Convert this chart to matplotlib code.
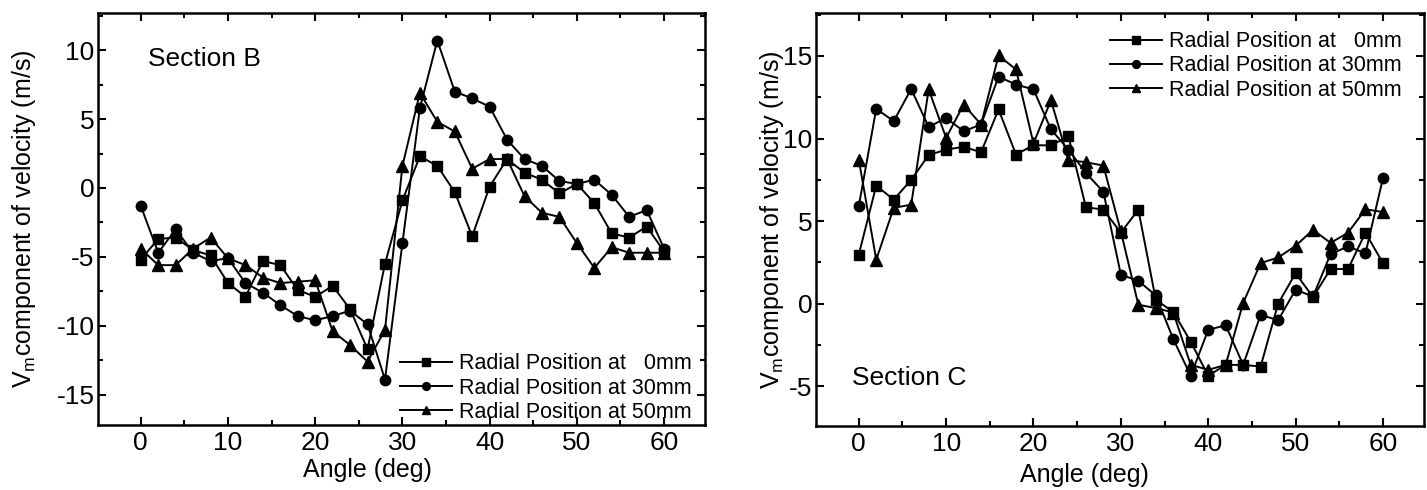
import matplotlib
matplotlib.use('Agg')
import matplotlib.pyplot as plt
from matplotlib.ticker import MultipleLocator

plt.rcParams['font.family'] = ['Liberation Sans', 'DejaVu Sans']
plt.rcParams['mathtext.fontset'] = 'custom'
plt.rcParams['mathtext.rm'] = 'Liberation Sans'
plt.rcParams['axes.unicode_minus'] = False

# angles (deg)
angle = list(range(0, 62, 2))

# Section B
b_0mm = [-5.2, -3.7, -3.6, -4.5, -4.9, -6.9, -7.9, -5.3, -5.6, -7.4, -7.9,
         -7.1, -8.8, -11.7, -5.5, -0.9, 2.3, 1.6, -0.3, -3.5, 0.1,
         2.1, 1.1, 0.6, -0.4, 0.3, -1.1, -3.3, -3.6, -2.8, -4.6]
b_30mm = [-1.3, -4.7, -3.0, -4.7, -5.3, -5.1, -6.9, -7.6, -8.5, -9.3, -9.6,
          -9.3, -8.9, -9.9, -13.9, -4.0, 5.8, 10.7, 7.0, 6.5, 5.9,
          3.5, 2.1, 1.6, 0.5, 0.3, 0.6, -0.5, -2.1, -1.6, -4.4]
b_50mm = [-4.4, -5.6, -5.6, -4.4, -3.6, -5.1, -5.6, -6.5, -6.9, -6.8, -6.7,
          -10.4, -11.4, -12.6, -10.3, 1.6, 6.9, 4.8, 4.1, 1.4, 2.1,
          2.1, -0.6, -1.8, -2.1, -4.0, -5.8, -4.3, -4.7, -4.7, -4.7]

# Section C
c_0mm = [2.97, 7.15, 6.3, 7.5, 9.0, 9.33, 9.5, 9.17, 11.76, 9.03, 9.6,
         9.58, 10.14, 5.84, 5.7, 4.3, 5.7, 0.24, -0.5, -2.3, -4.36,
         -3.7, -3.7, -3.8, 0.0, 1.85, 0.4, 2.1, 2.1, 4.3, 2.46]
c_30mm = [5.9, 11.8, 11.05, 13.0, 10.7, 11.25, 10.44, 10.85, 13.74, 13.27, 12.97,
          10.55, 9.33, 7.92, 6.77, 1.76, 1.39, 0.5, -2.14, -4.36, -1.58,
          -1.3, -3.7, -0.67, -1.0, 0.85, 0.44, 3.0, 3.47, 3.05, 7.6]
c_50mm = [8.73, 2.67, 5.8, 6.0, 12.97, 10.04, 12.06, 10.85, 15.03, 14.18, 9.7,
          12.32, 8.69, 8.57, 8.36, 4.38, -0.06, -0.26, -0.53, -3.7, -4.0,
          -3.7, 0.05, 2.46, 2.8, 3.5, 4.48, 3.68, 4.3, 5.72, 5.55]

labels = ['Radial Position at   0mm', 'Radial Position at 30mm', 'Radial Position at 50mm']
ylab = r'V$_\mathrm{m}$component of velocity (m/s)'


def style_axes(ax, ylim):
    ax.set_xlim(-4.9, 64.7)
    ax.set_ylim(ylim)
    ax.xaxis.set_major_locator(MultipleLocator(10))
    ax.xaxis.set_minor_locator(MultipleLocator(5))
    ax.yaxis.set_major_locator(MultipleLocator(5))
    ax.yaxis.set_minor_locator(MultipleLocator(2.5))
    ax.tick_params(which='both', direction='in', top=True, right=True,
                   width=1.5, labelsize=19)
    ax.tick_params(which='major', length=6)
    ax.tick_params(which='minor', length=3.5)
    ax.tick_params(axis='y', which='major', pad=2.5)
    ax.tick_params(axis='x', which='major', pad=4)
    for s in ax.spines.values():
        s.set_linewidth(1.8)
    ax.set_xlabel('Angle (deg)', fontsize=18)
    ax.set_ylabel(ylab, fontsize=18)


def plot_series(ax, s0, s30, s50):
    ax.plot(angle, s0, color='k', lw=1.4, marker='s', ms=7, label=labels[0])
    ax.plot(angle, s30, color='k', lw=1.4, marker='o', ms=7.5, label=labels[1])
    ax.plot(angle, s50, color='k', lw=1.4, marker='^', ms=8.5, label=labels[2])


fig = plt.figure(figsize=(14.27, 4.90), dpi=100)
ax1 = fig.add_axes([0.0687, 0.1327, 0.4254, 0.8408])
ax2 = fig.add_axes([0.5718, 0.1306, 0.4261, 0.8429])

plot_series(ax1, b_0mm, b_30mm, b_50mm)
style_axes(ax1, (-17.2, 12.7))
ax1.text(0.082, 0.888, 'Section B', transform=ax1.transAxes, fontsize=19,
         va='center', ha='left')
ax1.legend(loc='lower left', bbox_to_anchor=(0.4975, 0.005), frameon=False,
           fontsize=15.5, handlelength=2.4, handletextpad=0.35,
           labelspacing=0.15, borderpad=0, borderaxespad=0, markerscale=0.75)
ax1.yaxis.set_label_coords(-0.099, 0.5)
ax1.xaxis.set_label_coords(0.443, -0.08)

plot_series(ax2, c_0mm, c_30mm, c_50mm)
style_axes(ax2, (-7.4, 17.6))
ax2.text(0.059, 0.116, 'Section C', transform=ax2.transAxes, fontsize=19,
         va='center', ha='left')
ax2.legend(loc='upper left', bbox_to_anchor=(0.4836, 0.956), frameon=False,
           fontsize=15.5, handlelength=2.4, handletextpad=0.35,
           labelspacing=0.15, borderpad=0, borderaxespad=0, markerscale=0.75)
ax2.yaxis.set_label_coords(-0.05, 0.5)
ax2.xaxis.set_label_coords(0.442, -0.09)

fig.savefig('out.png', dpi=100)
